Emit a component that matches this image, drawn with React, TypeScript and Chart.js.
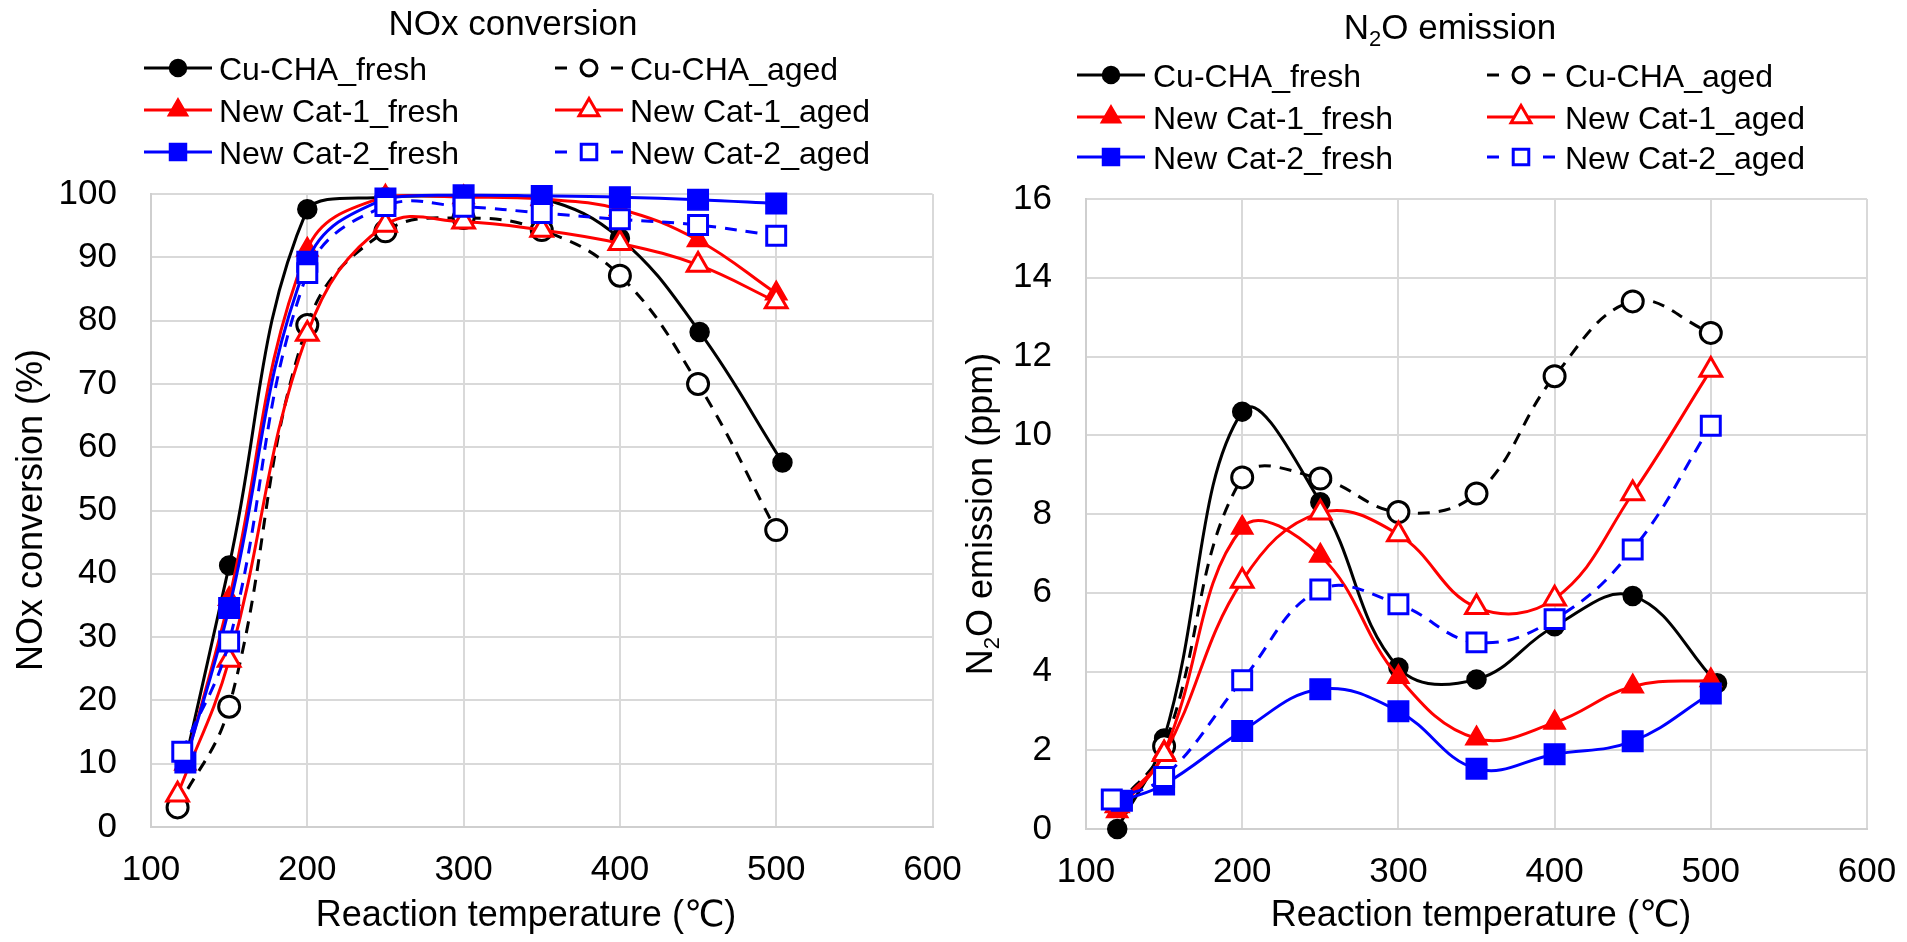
import React, { useEffect, useRef } from 'react';
import { Chart, registerables } from 'chart.js';

Chart.register(...registerables);

const FONT = "'Liberation Sans', Arial, 'DejaVu Sans', 'Noto Sans CJK SC', sans-serif";

// ---------- series meta ----------
const seriesNames = [
  'Cu-CHA_fresh',
  'Cu-CHA_aged',
  'New Cat-1_fresh',
  'New Cat-1_aged',
  'New Cat-2_fresh',
  'New Cat-2_aged',
];
const seriesColors = ['#000000', '#000000', '#ff0000', '#ff0000', '#0000ff', '#0000ff'];
const seriesMarkers = ['circle', 'circle', 'triangle', 'triangle', 'rect', 'rect'];
const seriesFilled = [true, false, true, false, true, false];
const seriesDashed = [false, true, false, false, false, true];

const xTickValues = [100, 200, 300, 400, 500, 600];

// ---------- NOx conversion (%) ----------
const noxXCuFresh = [122, 150, 200, 250, 300, 350, 400, 451, 504];
const noxCuFresh = [10.5, 41.3, 97.6, 99.5, 99.6, 99.3, 93.0, 78.2, 57.6];
const noxXCuAged = [117, 150, 200, 250, 300, 350, 400, 450, 500];
const noxCuAged = [3.1, 19.0, 79.3, 94.1, 96.2, 94.3, 87.1, 70.0, 46.9];
const noxXCat1Fresh = [122, 150, 200, 250, 300, 350, 400, 450, 500];
const noxCat1Fresh = [10.0, 36.0, 91.2, 99.6, 99.5, 99.2, 97.6, 92.7, 84.3];
const noxXCat1Aged = [117, 150, 200, 250, 300, 350, 400, 450, 500];
const noxCat1Aged = [5.1, 26.4, 77.9, 95.1, 95.6, 94.3, 92.2, 88.8, 83.0];
const noxXCat2Fresh = [122, 150, 200, 250, 300, 350, 400, 450, 500];
const noxCat2Fresh = [10.2, 34.6, 89.3, 99.3, 99.8, 99.7, 99.5, 99.1, 98.5];
const noxXCat2Aged = [120, 150, 200, 250, 300, 350, 400, 450, 500];
const noxCat2Aged = [11.9, 29.3, 87.5, 98.1, 98.0, 97.0, 96.0, 95.1, 93.4];

// ---------- N2O emission (ppm) ----------
const n2oXCuFresh = [120, 150, 200, 250, 300, 350, 400, 450, 504];
const n2oCuFresh = [0.0, 2.3, 10.6, 8.3, 4.1, 3.8, 5.15, 5.92, 3.7];
const n2oXCuAged = [120, 150, 200, 250, 300, 350, 400, 450, 500];
const n2oCuAged = [0.6, 2.1, 8.93, 8.9, 8.05, 8.52, 11.5, 13.4, 12.6];
const n2oXCat1Fresh = [120, 150, 200, 250, 300, 350, 400, 450, 500];
const n2oCat1Fresh = [0.45, 1.95, 7.65, 6.94, 3.86, 2.3, 2.7, 3.62, 3.78];
const n2oXCat1Aged = [120, 150, 200, 250, 300, 350, 400, 450, 500];
const n2oCat1Aged = [0.6, 1.9, 6.3, 8.03, 7.48, 5.63, 5.85, 8.52, 11.66];
const n2oXCat2Fresh = [123, 150, 200, 250, 300, 350, 400, 450, 500];
const n2oCat2Fresh = [0.72, 1.13, 2.49, 3.55, 2.99, 1.53, 1.9, 2.23, 3.44];
const n2oXCat2Aged = [116.5, 150, 200, 250, 300, 350, 400, 450, 500];
const n2oCat2Aged = [0.75, 1.32, 3.78, 6.08, 5.71, 4.74, 5.33, 7.1, 10.24];

type Seg = { t: string; sub?: boolean };

const pointRadii = [9.5, 10.5, 12.5, 12.5, 14.5, 13.4];
const legendRadii = [8.5, 8, 11.5, 11.5, 12, 11];

function makeDatasets(xs: number[][], ys: number[][]) {
  return seriesNames.map((name, i) => ({
    label: name,
    data: xs[i].map((x, j) => ({ x, y: ys[i][j] })),
    borderColor: seriesColors[i],
    backgroundColor: seriesFilled[i] ? seriesColors[i] : '#ffffff',
    pointBackgroundColor: seriesFilled[i] ? seriesColors[i] : '#ffffff',
    pointBorderColor: seriesColors[i],
    pointStyle: seriesMarkers[i],
    pointRadius: pointRadii[i],
    pointHoverRadius: pointRadii[i],
    pointBorderWidth: seriesFilled[i] ? 1.5 : 3,
    borderWidth: 3,
    borderDash: seriesDashed[i] ? [12, 9] : [],
    tension: 0.4,
    fill: false,
    clip: false,
    order: 6 - i,
  }));
}

function drawRich(ctx: CanvasRenderingContext2D, segs: Seg[], cx: number, baseline: number, size: number) {
  const subSize = Math.round(size * 0.62);
  const widths = segs.map((s) => {
    ctx.font = `${s.sub ? subSize : size}px ${FONT}`;
    return ctx.measureText(s.t).width;
  });
  const total = widths.reduce((a, b) => a + b, 0);
  let x = cx - total / 2;
  ctx.textAlign = 'left';
  ctx.textBaseline = 'alphabetic';
  ctx.fillStyle = '#000000';
  segs.forEach((s, i) => {
    ctx.font = `${s.sub ? subSize : size}px ${FONT}`;
    ctx.fillText(s.t, x, baseline + (s.sub ? size * 0.2 : 0));
    x += widths[i];
  });
}

function drawMarker(
  ctx: CanvasRenderingContext2D,
  style: string,
  x: number,
  y: number,
  r: number,
  filled: boolean,
  color: string,
) {
  ctx.beginPath();
  if (style === 'circle') {
    ctx.arc(x, y, r, 0, Math.PI * 2);
  } else if (style === 'triangle') {
    ctx.moveTo(x, y - r);
    ctx.lineTo(x + 0.866 * r, y + 0.5 * r);
    ctx.lineTo(x - 0.866 * r, y + 0.5 * r);
    ctx.closePath();
  } else {
    const s = r * Math.SQRT1_2;
    ctx.rect(x - s, y - s, 2 * s, 2 * s);
  }
  ctx.setLineDash([]);
  ctx.fillStyle = filled ? color : '#ffffff';
  ctx.fill();
  ctx.lineWidth = filled ? 1.5 : 3;
  ctx.strokeStyle = color;
  ctx.stroke();
}

const decoPlugin = {
  id: 'deco',
  afterDraw(chart: any, _args: any, o: any) {
    const ctx: CanvasRenderingContext2D = chart.ctx;
    ctx.save();
    // title
    drawRich(ctx, o.title, o.titleX, o.titleY, 35);
    // legend
    chart.data.datasets.forEach((ds: any, i: number) => {
      const col = i % 2;
      const row = Math.floor(i / 2);
      const lx = o.legendLineX[col];
      const ly = o.legendRowY[row];
      const len = 68;
      ctx.strokeStyle = ds.borderColor;
      ctx.lineWidth = 3;
      ctx.setLineDash([]);
      ctx.beginPath();
      if (seriesDashed[i]) {
        ctx.moveTo(lx, ly);
        ctx.lineTo(lx + 12, ly);
        ctx.moveTo(lx + len - 12, ly);
        ctx.lineTo(lx + len, ly);
      } else {
        ctx.moveTo(lx, ly);
        ctx.lineTo(lx + len, ly);
      }
      ctx.stroke();
      drawMarker(ctx, seriesMarkers[i], lx + len / 2, ly, legendRadii[i], seriesFilled[i], seriesColors[i]);
      ctx.font = `32px ${FONT}`;
      ctx.fillStyle = '#000000';
      ctx.textAlign = 'left';
      ctx.textBaseline = 'alphabetic';
      ctx.fillText(ds.label, o.legendTextX[col], ly + 11.5);
    });
    // y title
    ctx.save();
    ctx.translate(o.yTitleX, o.yTitleY);
    ctx.rotate(-Math.PI / 2);
    drawRich(ctx, o.yTitle, 0, 0, 36);
    ctx.restore();
    // x title
    drawRich(ctx, o.xTitle, o.xTitleX, o.xTitleY, 36);
    ctx.restore();
  },
};

function makeConfig(
  datasets: any[],
  yMax: number,
  yStep: number,
  yAxisWidth: number,
  padRight: number,
  padTop: number,
  xAxisHeight: number,
  deco: any,
) {
  return {
    type: 'line' as const,
    data: { datasets },
    plugins: [decoPlugin],
    options: {
      responsive: false,
      maintainAspectRatio: false,
      animation: false as const,
      events: [],
      layout: { padding: { left: 0, right: padRight, top: padTop, bottom: 0 } },
      plugins: {
        legend: { display: false },
        title: { display: false },
        tooltip: { enabled: false },
        deco,
      },
      scales: {
        x: {
          type: 'linear' as const,
          min: 100,
          max: 600,
          afterBuildTicks: (s: any) => {
            s.ticks = xTickValues.map((v) => ({ value: v }));
          },
          ticks: {
            font: { family: FONT, size: 35 },
            color: '#000000',
            padding: 22,
            maxRotation: 0,
            autoSkip: false,
          },
          grid: { color: '#d9d9d9', lineWidth: 2, drawTicks: false },
          border: { color: '#cfcfcf', width: 2 },
          afterFit: (s: any) => {
            s.height = xAxisHeight;
            s.paddingLeft = 0;
            s.paddingRight = 0;
          },
        },
        y: {
          type: 'linear' as const,
          min: 0,
          max: yMax,
          ticks: {
            stepSize: yStep,
            font: { family: FONT, size: 35 },
            color: '#000000',
            padding: 34,
          },
          grid: { color: '#d9d9d9', lineWidth: 2, drawTicks: false },
          border: { color: '#cfcfcf', width: 2 },
          afterFit: (s: any) => {
            s.width = yAxisWidth;
            s.paddingTop = 0;
            s.paddingBottom = 0;
          },
        },
      },
    },
  };
}

export default function App() {
  const leftRef = useRef<HTMLCanvasElement>(null);
  const rightRef = useRef<HTMLCanvasElement>(null);

  useEffect(() => {
    const noxSets = makeDatasets(
      [noxXCuFresh, noxXCuAged, noxXCat1Fresh, noxXCat1Aged, noxXCat2Fresh, noxXCat2Aged],
      [noxCuFresh, noxCuAged, noxCat1Fresh, noxCat1Aged, noxCat2Fresh, noxCat2Aged],
    );
    const n2oSets = makeDatasets(
      [n2oXCuFresh, n2oXCuAged, n2oXCat1Fresh, n2oXCat1Aged, n2oXCat2Fresh, n2oXCat2Aged],
      [n2oCuFresh, n2oCuAged, n2oCat1Fresh, n2oCat1Aged, n2oCat2Fresh, n2oCat2Aged],
    );

    const left = new Chart(
      leftRef.current as HTMLCanvasElement,
      makeConfig(noxSets, 100, 10, 151, 980 - 932.5, 194, 942 - 827, {
        title: [{ t: 'NOx conversion' }],
        titleX: 513,
        titleY: 35,
        legendLineX: [144, 555],
        legendTextX: [219, 630],
        legendRowY: [68, 110, 152],
        yTitle: [{ t: 'NOx conversion (%)' }],
        yTitleX: 42,
        yTitleY: 510,
        xTitle: [{ t: 'Reaction temperature (℃)' }],
        xTitleX: 526,
        xTitleY: 926,
      }) as any,
    );

    const right = new Chart(
      rightRef.current as HTMLCanvasElement,
      makeConfig(n2oSets, 16, 2, 133, 954 - 914, 199, 942 - 829, {
        title: [{ t: 'N' }, { t: '2', sub: true }, { t: 'O emission' }],
        titleX: 497,
        titleY: 39,
        legendLineX: [124, 534],
        legendTextX: [200, 612],
        legendRowY: [75, 117, 157],
        yTitle: [{ t: 'N' }, { t: '2', sub: true }, { t: 'O emission (ppm)' }],
        yTitleX: 39,
        yTitleY: 514,
        xTitle: [{ t: 'Reaction temperature (℃)' }],
        xTitleX: 528,
        xTitleY: 926,
      }) as any,
    );

    return () => {
      left.destroy();
      right.destroy();
    };
  }, []);

  return (
    <div style={{ position: 'absolute', left: 0, top: 0, width: 1907, height: 942, background: '#ffffff', overflow: 'hidden' }}>
      <canvas
        ref={leftRef}
        width={980}
        height={942}
        style={{ position: 'absolute', left: 0, top: 0, width: 980, height: 942, zIndex: 1 }}
      />
      <canvas
        ref={rightRef}
        width={954}
        height={942}
        style={{ position: 'absolute', left: 953, top: 0, width: 954, height: 942, zIndex: 2 }}
      />
    </div>
  );
}
